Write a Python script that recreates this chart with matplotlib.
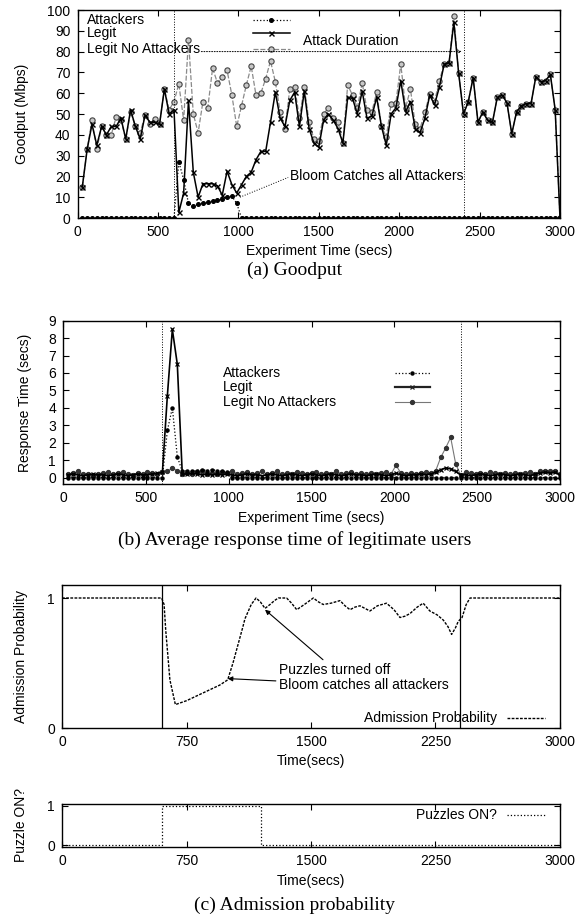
import matplotlib.pyplot as plt
from matplotlib.lines import Line2D

plt.rcParams['font.family'] = ['Liberation Sans', 'DejaVu Sans']
plt.rcParams['font.size'] = 10

# ---- (a) goodput, one sample every 30 s ----
time_s = list(range(30, 3001, 30))

attackers_gp = [0, 0, 0, 0, 0, 0, 0, 0, 0, 0,
                0, 0, 0, 0, 0, 0, 0, 0, 0, 0,
                27, 18.5, 7, 6, 6.5, 7, 7.5, 8, 8.5, 9,
                10, 10.5, 7, 0, 0, 0, 0, 0, 0, 0,
                0, 0, 0, 0, 0, 0, 0, 0, 0, 0,
                0, 0, 0, 0, 0, 0, 0, 0, 0, 0,
                0, 0, 0, 0, 0, 0, 0, 0, 0, 0,
                0, 0, 0, 0, 0, 0, 0, 0, 0, 0,
                0, 0, 0, 0, 0, 0, 0, 0, 0, 0,
                0, 0, 0, 0, 0, 0, 0, 0, 0, 0]

legit_gp = [15, 33, 45, 35, 44, 40, 44, 44, 48, 38,
            52, 44, 38, 49.5, 46, 46, 45, 62, 50, 52,
            2.7, 12, 56.5, 22, 10, 16.5, 16.5, 16.5, 15.5, 11,
            22.5, 16, 12, 16, 20, 22, 28, 32, 32, 46,
            60.5, 48, 44, 56.5, 60.5, 44, 61, 43, 36, 34,
            47, 50, 47, 43, 36, 58, 57.5, 50, 61, 48,
            49, 58, 44, 35, 50, 53, 66, 51, 56, 43,
            41, 48, 59, 54.5, 63, 74, 74.5, 94, 69.5, 50,
            56, 67.5, 46, 51, 47, 46, 58, 59, 55.5, 40.5,
            51, 54, 55, 55, 68, 65.5, 66, 69, 52, 0]

legit_noatk_gp = [15, 33, 47, 33, 44, 40, 40, 48.5, 47, 38,
                  51, 44, 41, 49.5, 45, 47.5, 45, 62, 52, 56,
                  64.5, 47, 85.5, 50, 41, 56, 53, 72, 65, 68,
                  71, 59, 44, 54, 64, 73, 59, 60, 67, 75.5,
                  65.5, 51, 43, 62, 63, 48, 63, 46, 38, 37,
                  50, 53, 48, 46, 36, 64, 59, 53, 65, 52,
                  51, 60.5, 44, 39, 55, 55.5, 74, 53, 62, 45,
                  43, 51, 59.5, 56, 66, 74, 74.5, 97, 69.5, 50,
                  56, 67.5, 46, 51, 47, 46, 58, 59, 55.5, 40.5,
                  51, 54, 55, 55, 68, 65.5, 66, 69, 52, 0]

# ---- (b) response time (secs) ----
attackers_rt = [0, 0, 0, 0, 0, 0, 0, 0, 0, 0,
                0, 0, 0, 0, 0, 0, 0, 0, 0, 0,
                2.7, 4.0, 1.2, 0.35, 0.4, 0.35, 0.4, 0.45, 0.4, 0.45,
                0.4, 0.35, 0.3, 0, 0, 0, 0, 0, 0, 0,
                0, 0, 0, 0, 0, 0, 0, 0, 0, 0,
                0, 0, 0, 0, 0, 0, 0, 0, 0, 0,
                0, 0, 0, 0, 0, 0, 0, 0, 0, 0,
                0, 0, 0, 0, 0, 0, 0, 0, 0, 0,
                0, 0, 0, 0, 0, 0, 0, 0, 0, 0,
                0, 0, 0, 0, 0, 0, 0, 0, 0, 0]

legit_rt = [0.15, 0.2, 0.15, 0.1, 0.15, 0.2, 0.15, 0.15, 0.1, 0.15,
            0.2, 0.15, 0.1, 0.15, 0.2, 0.15, 0.15, 0.2, 0.25, 0.3,
            4.7, 8.5, 6.5, 0.2, 0.2, 0.25, 0.2, 0.15, 0.2, 0.15,
            0.2, 0.15, 0.2, 0.15, 0.1, 0.15, 0.2, 0.15, 0.15, 0.1,
            0.15, 0.2, 0.15, 0.1, 0.15, 0.2, 0.15, 0.1, 0.15, 0.2,
            0.15, 0.1, 0.15, 0.2, 0.15, 0.1, 0.15, 0.2, 0.15, 0.15,
            0.1, 0.15, 0.2, 0.15, 0.1, 0.15, 0.25, 0.15, 0.1, 0.15,
            0.15, 0.2, 0.15, 0.2, 0.3, 0.45, 0.55, 0.5, 0.35, 0.15,
            0.15, 0.1, 0.15, 0.2, 0.15, 0.1, 0.15, 0.2, 0.15, 0.1,
            0.15, 0.2, 0.15, 0.1, 0.2, 0.25, 0.3, 0.25, 0.3, 0.15]

legit_noatk_rt = [0.2, 0.25, 0.35, 0.2, 0.2, 0.15, 0.2, 0.25, 0.3, 0.2,
                  0.25, 0.3, 0.2, 0.15, 0.25, 0.2, 0.3, 0.25, 0.2, 0.3,
                  0.35, 0.55, 0.4, 0.2, 0.25, 0.2, 0.3, 0.35, 0.2, 0.25,
                  0.2, 0.3, 0.25, 0.4, 0.2, 0.25, 0.3, 0.2, 0.25, 0.35,
                  0.2, 0.25, 0.35, 0.2, 0.25, 0.2, 0.3, 0.25, 0.2, 0.25,
                  0.3, 0.2, 0.25, 0.2, 0.35, 0.2, 0.25, 0.3, 0.2, 0.25,
                  0.2, 0.25, 0.2, 0.25, 0.3, 0.2, 0.7, 0.25, 0.2, 0.25,
                  0.2, 0.25, 0.3, 0.25, 0.4, 1.15, 1.7, 2.3, 0.8, 0.15,
                  0.3, 0.25, 0.2, 0.25, 0.2, 0.3, 0.25, 0.2, 0.25, 0.2,
                  0.25, 0.2, 0.25, 0.3, 0.2, 0.35, 0.4, 0.35, 0.4, 0.2]

# ---- (c) admission probability and puzzle state ----
adm_t = [0, 600, 615, 625, 650, 683, 750, 800, 850, 900, 950, 998,
         1030, 1060, 1090, 1102, 1140, 1169, 1195, 1223, 1253, 1280, 1303,
         1353, 1383, 1414, 1460, 1514, 1545, 1574, 1620, 1675, 1705, 1735,
         1765, 1795, 1825, 1855, 1900, 1955, 2000, 2036, 2066, 2096, 2140,
         2176, 2216, 2260, 2297, 2325, 2347, 2370, 2387, 2410, 2435, 2458,
         3000]
adm_p = [1.0, 1.0, 0.95, 0.75, 0.37, 0.18, 0.21, 0.24, 0.27, 0.3, 0.33, 0.37,
         0.5, 0.64, 0.78, 0.84, 0.95, 1.0, 0.97, 0.92, 0.95, 0.98, 1.0,
         1.0, 0.96, 0.91, 0.95, 1.0, 0.97, 0.95, 0.96, 0.98, 0.94, 0.91,
         0.93, 0.94, 0.92, 0.9, 0.94, 0.96, 0.91, 0.85, 0.86, 0.88, 0.93,
         0.96, 0.9, 0.87, 0.83, 0.78, 0.72, 0.77, 0.82, 0.85, 0.95, 1.0,
         1.0]

puzzle_t = [0, 600, 600, 1200, 1200, 3000]
puzzle_on = [0, 0, 1, 1, 0, 0]

ATTACK_START, ATTACK_END = 600, 2400

W, H = 584, 915
fig = plt.figure(figsize=(W / 100, H / 100), dpi=100)


def box(left, top, right, bottom):
    return [left / W, 1 - bottom / H, (right - left) / W, (bottom - top) / H]


def style(ax):
    ax.tick_params(direction='in', top=True, right=True, length=4, width=0.8, pad=5)
    for s in ax.spines.values():
        s.set_linewidth(1.0)


gray = '#8a8a8a'

# ---------------- (a) Goodput ----------------
ax1 = fig.add_axes(box(77.5, 10, 560, 218))
ax1.plot(time_s, legit_noatk_gp, color=gray, lw=0.9, ls=(0, (4, 1.5)), marker='o',
         ms=3.8, mfc='#c8c8c8', mec='#444444', mew=0.8, zorder=2)
ax1.plot(time_s, legit_gp, color='black', lw=1.1, marker='x', ms=3.6, mew=1.0, zorder=3)
ax1.plot(time_s, attackers_gp, color='black', lw=0.9, ls=':', marker='o', ms=2.6, zorder=4)
ax1.axvline(ATTACK_START, color='black', lw=0.7, ls=':')
ax1.axvline(ATTACK_END, color='black', lw=0.7, ls=':')
ax1.annotate('', xy=(2390, 80), xytext=(770, 80),
             arrowprops=dict(arrowstyle='->', lw=0.7, ls=':', color='black',
                             shrinkA=0, shrinkB=0, mutation_scale=6))
ax1.text(1400, 85, 'Attack Duration', va='center', ha='left')
ax1.plot([1010, 1310], [10, 19.5], color='black', lw=0.7, ls=':')
ax1.text(1320, 20, 'Bloom Catches all Attackers', va='center', ha='left')
ax1.set_xlim(0, 3000)
ax1.set_ylim(0, 100)
ax1.set_xticks(range(0, 3001, 500))
ax1.set_yticks(range(0, 101, 10))
ax1.set_xlabel('Experiment Time (secs)', labelpad=4)
ax1.set_ylabel('Goodput (Mbps)', labelpad=13)
style(ax1)

leg_rows = [('Attackers', 0.952, dict(color='black', lw=0.9, ls=':', marker='o', ms=2.6)),
            ('Legit', 0.888, dict(color='black', lw=1.1, marker='x', ms=3.6, mew=1.0)),
            ('Legit No Attackers', 0.811, dict(color=gray, lw=0.9, ls=(0, (4, 1.5)), marker='o',
                                                ms=3.8, mfc='#c8c8c8', mec='#444444', mew=0.8))]
for label, yy, kw in leg_rows:
    ax1.text(0.02, yy, label, transform=ax1.transAxes, va='center', ha='left')
    ax1.add_line(Line2D([0.364, 0.402, 0.44], [yy, yy, yy], transform=ax1.transAxes,
                        markevery=[1], **kw))

fig.text(295 / W, 1 - 270 / H, '(a) Goodput', ha='center', va='center',
         family='Liberation Serif', fontsize=14)

# ---------------- (b) Response time ----------------
ax2 = fig.add_axes(box(63, 320.7, 560, 484.5))
ax2.plot(time_s, legit_noatk_rt, color='#777777', lw=0.8, marker='o', ms=2.8,
         mfc='#333333', mec='#333333', zorder=2)
ax2.plot(time_s, legit_rt, color='black', lw=1.2, marker='x', ms=3, mew=0.9, zorder=3)
ax2.plot(time_s, attackers_rt, color='black', lw=0.9, ls=':', marker='o', ms=2.2, zorder=4)
ax2.axvline(ATTACK_START, color='black', lw=0.7, ls=':')
ax2.axvline(ATTACK_END, color='black', lw=0.7, ls=':')
ax2.set_xlim(0, 3000)
ax2.set_ylim(-0.4, 9)
ax2.set_xticks(range(0, 3001, 500))
ax2.set_yticks(range(0, 10))
ax2.set_xlabel('Experiment Time (secs)', labelpad=4)
ax2.set_ylabel('Response Time (secs)', labelpad=12)
style(ax2)

leg_rows2 = [('Attackers', 0.679, dict(color='black', lw=0.9, ls=':', marker='o', ms=2.2)),
             ('Legit', 0.597, dict(color='#222222', lw=1.6, marker='x', ms=3, mew=0.9)),
             ('Legit No Attackers', 0.505, dict(color='#777777', lw=0.8, marker='o', ms=2.8,
                                                 mfc='#333333', mec='#333333'))]
for label, yy, kw in leg_rows2:
    ax2.text(0.322, yy, label, transform=ax2.transAxes, va='center', ha='left')
    ax2.add_line(Line2D([0.668, 0.703, 0.738], [yy, yy, yy], transform=ax2.transAxes,
                        markevery=[1], **kw))

fig.text(295 / W, 1 - 540 / H, '(b) Average response time of legitimate users',
         ha='center', va='center', family='Liberation Serif', fontsize=14)

# ---------------- (c) Admission probability ----------------
ax3 = fig.add_axes(box(62, 585, 560, 728))
ax3.plot(adm_t, adm_p, color='black', lw=1.0, ls=(0, (2, 1)))
ax3.axvline(ATTACK_START, color='black', lw=0.9)
ax3.axvline(ATTACK_END, color='black', lw=0.9)
ax3.annotate('Puzzles turned off', xy=(1223, 0.91), xytext=(1305, 0.45),
             va='center', ha='left',
             arrowprops=dict(arrowstyle='-|>', lw=0.8, color='black', mutation_scale=7,
                             shrinkA=0, shrinkB=0))
ax3.annotate('Bloom catches all attackers', xy=(998, 0.38), xytext=(1305, 0.33),
             va='center', ha='left',
             arrowprops=dict(arrowstyle='-|>', lw=0.8, color='black', mutation_scale=7,
                             shrinkA=0, shrinkB=0))
ax3.set_xlim(0, 3000)
ax3.set_ylim(0, 1.1)
ax3.set_xticks([0, 750, 1500, 2250, 3000])
ax3.set_yticks([0, 1])
ax3.set_xlabel('Time(secs)', labelpad=4)
ax3.set_ylabel('Admission Probability', labelpad=14)
style(ax3)
ax3.text(0.873, 0.073, 'Admission Probability', transform=ax3.transAxes, ha='right', va='center')
ax3.add_line(Line2D([0.894, 0.97], [0.073, 0.073], transform=ax3.transAxes,
                    color='black', lw=1.0, ls=(0, (2, 1))))

# ---------------- Puzzle state ----------------
ax4 = fig.add_axes(box(62, 804, 560, 847))
ax4.plot(puzzle_t, puzzle_on, color='black', lw=0.9, ls=':')
ax4.set_xlim(0, 3000)
ax4.set_ylim(-0.05, 1.05)
ax4.set_xticks([0, 750, 1500, 2250, 3000])
ax4.set_yticks([0, 1])
ax4.set_xlabel('Time(secs)', labelpad=4)
ax4.set_ylabel('Puzzle ON?', labelpad=14)
style(ax4)
ax4.text(0.873, 0.75, 'Puzzles ON?', transform=ax4.transAxes, ha='right', va='center')
ax4.add_line(Line2D([0.894, 0.97], [0.75, 0.75], transform=ax4.transAxes,
                    color='black', lw=0.9, ls=':'))

fig.text(295 / W, 1 - 905 / H, '(c) Admission probability', ha='center', va='center',
         family='Liberation Serif', fontsize=14)

fig.savefig('out.png', dpi=100)
